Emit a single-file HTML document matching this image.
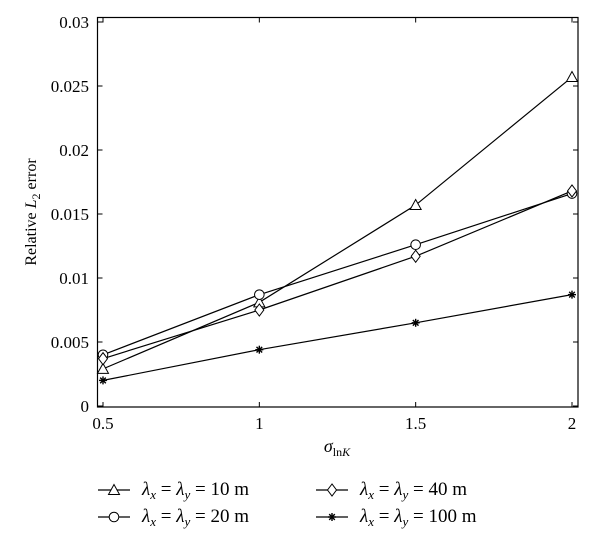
<!DOCTYPE html>
<html><head><meta charset="utf-8"><style>
body{margin:0;background:#fff;}
svg text{font-family:"Liberation Serif","Times New Roman",serif;fill:#000;}
</style></head><body>
<svg width="600" height="548" viewBox="0 0 600 548" xmlns="http://www.w3.org/2000/svg" font-family="Liberation Serif, serif">
<g id="plot"></g>
<g id="legend"></g>
</svg>
<script>
const xCats = [0.5, 1, 1.5, 2];
const seriesTri = [0.0029, 0.0081, 0.0157, 0.0257];
const seriesCirc = [0.0040, 0.0087, 0.0126, 0.0166];
const seriesDiam = [0.0037, 0.0075, 0.0117, 0.0168];
const seriesStar = [0.0020, 0.0044, 0.0065, 0.0087];
const yTicks = [0, 0.005, 0.01, 0.015, 0.02, 0.025, 0.03];
const yTickLabels = ["0", "0.005", "0.01", "0.015", "0.02", "0.025", "0.03"];
const xTickLabels = ["0.5", "1", "1.5", "2"];
const legendLabels = ["10", "20", "40", "100"];

const NS = "http://www.w3.org/2000/svg";
const X = v => 103 + (v - 0.5) / 1.5 * 469;
const Y = v => 406 - v / 0.03 * 384;
const plot = document.getElementById('plot');
const legend = document.getElementById('legend');
function mk(tag, attrs, parent, text) {
  const e = document.createElementNS(NS, tag);
  for (const k in attrs) e.setAttribute(k, attrs[k]);
  if (text !== undefined) e.textContent = text;
  parent.appendChild(e);
  return e;
}
const L = 97.5, R = 578, T = 17.5, B = 407;
const frame = mk('rect', {x: L, y: T, width: R - L, height: B - T, fill: 'none', stroke: '#000', 'stroke-width': 1.2}, plot);


yTicks.forEach((v, i) => {
  const y = Y(v);
  mk('line', {x1: L, x2: L + 5, y1: y, y2: y, stroke: '#000'}, plot);
  mk('line', {x1: R, x2: R - 5, y1: y, y2: y, stroke: '#000'}, plot);
  const t = mk('text', {x: 89, y: y + 6, 'font-size': 17, 'text-anchor': 'end'}, plot, yTickLabels[i]);
  
  
});
xCats.forEach((v, i) => {
  const x = X(v);
  mk('line', {x1: x, x2: x, y1: B, y2: B - 5, stroke: '#000'}, plot);
  mk('line', {x1: x, x2: x, y1: T, y2: T + 5, stroke: '#000'}, plot);
  const t = mk('text', {x: x, y: 429, 'font-size': 17, 'text-anchor': 'middle'}, plot, xTickLabels[i]);
  
  
});
const yt = mk('text', {x: 0, y: 0, 'font-size': 16, 'text-anchor': 'middle', transform: 'translate(36,212) rotate(-90)'}, plot);


yt.innerHTML = 'Relative <tspan font-style="italic">L</tspan><tspan font-size="12" dy="4">2</tspan><tspan dy="-4"> error</tspan>';
const xt = mk('text', {x: 337, y: 452, 'font-size': 18, 'text-anchor': 'middle'}, plot);


xt.innerHTML = '<tspan font-style="italic">σ</tspan><tspan font-size="12" dy="4">ln</tspan><tspan font-size="12" font-style="italic">K</tspan>';

function marker(kind, x, y, parent) {
  let m;
  if (kind === 'tri') m = mk('polygon', {points: `${x},${y-5.5} ${x-5.5},${y+4.5} ${x+5.5},${y+4.5}`, fill: '#fff', stroke: '#000', 'stroke-width': 1}, parent);
  else if (kind === 'circ') m = mk('circle', {cx: x, cy: y, r: 4.8, fill: '#fff', stroke: '#000', 'stroke-width': 1}, parent);
  else if (kind === 'diam') m = mk('polygon', {points: `${x},${y-6} ${x-4.5},${y} ${x},${y+6} ${x+4.5},${y}`, fill: '#fff', stroke: '#000', 'stroke-width': 1}, parent);
  else {
    m = mk('g', {stroke: '#000', 'stroke-width': 1.4}, parent);
    for (let a = 0; a < 4; a++) {
      const ang = a * Math.PI / 4;
      mk('line', {x1: x - 4 * Math.cos(ang), y1: y - 4 * Math.sin(ang), x2: x + 4 * Math.cos(ang), y2: y + 4 * Math.sin(ang)}, m);
    }
  }
  
  
}
const allSeries = [['tri', seriesTri], ['circ', seriesCirc], ['diam', seriesDiam], ['star', seriesStar]];
allSeries.forEach(([k, vals]) => {
  const pts = vals.map((v, i) => X(xCats[i]) + ',' + Y(v)).join(' ');
  const pl = mk('polyline', {points: pts, fill: 'none', stroke: '#000', 'stroke-width': 1.2}, plot);
  
  
});
allSeries.forEach(([k, vals]) => vals.forEach((v, i) => marker(k, X(xCats[i]), Y(v), plot)));

const legPos = [[98, 490, 'tri'], [98, 517, 'circ'], [316, 490, 'diam'], [316, 517, 'star']];
legPos.forEach(([lx, ly, k], i) => {
  const g = mk('g', {}, legend);
  
  
  mk('line', {x1: lx, x2: lx + 32, y1: ly, y2: ly, stroke: '#000', 'stroke-width': 1.2}, g);
  marker(k, lx + 16, ly, g);
  const t = mk('text', {x: lx + 44, y: ly + 5, 'font-size': 19}, g);
  t.innerHTML = '<tspan font-style="italic">λ</tspan><tspan font-size="13" font-style="italic" dy="4">x</tspan><tspan dy="-4"> = </tspan><tspan font-style="italic">λ</tspan><tspan font-size="13" font-style="italic" dy="4">y</tspan><tspan dy="-4"> = ' + legendLabels[i] + ' m</tspan>';
});
</script>
</body></html>
